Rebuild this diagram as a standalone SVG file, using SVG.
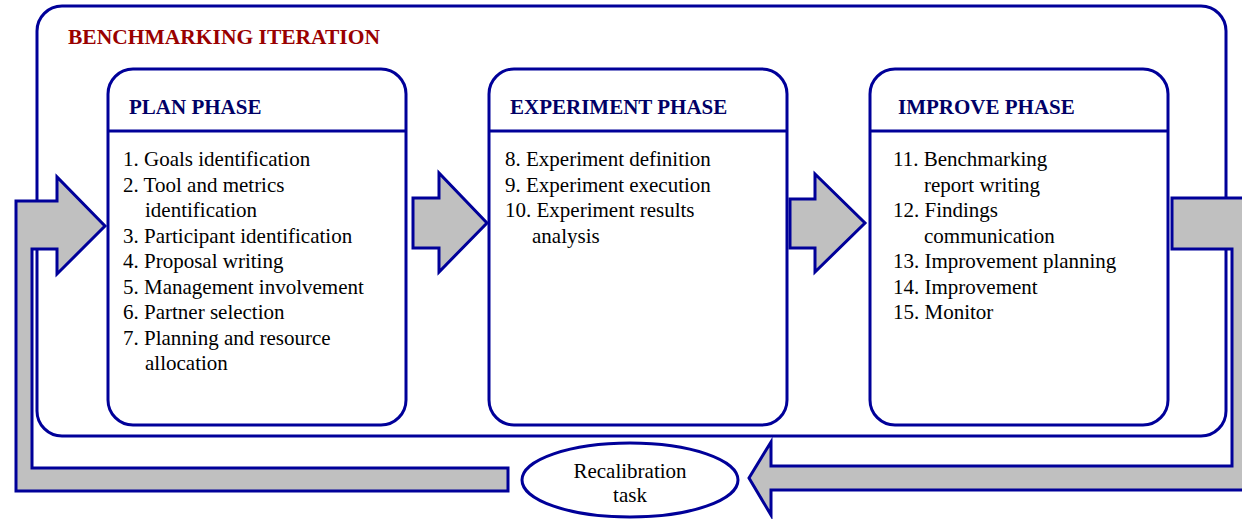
<svg xmlns="http://www.w3.org/2000/svg" width="1242" height="519" viewBox="0 0 1242 519">
<style>
.frame{fill:none;stroke:#000099;stroke-width:3}
.box{fill:#fff;stroke:#000099;stroke-width:3}
.sep{stroke:#000099;stroke-width:3}
.arrow{fill:#c0c0c0;stroke:#000099;stroke-width:3;stroke-linejoin:miter}
.title{font-family:"Liberation Serif","Times New Roman",serif;font-weight:bold;font-size:21.5px;fill:#990000}
.head{font-family:"Liberation Serif","Times New Roman",serif;font-weight:bold;font-size:21px;fill:#000066}
.body{font-family:"Liberation Serif","Times New Roman",serif;font-size:21px;fill:#000}
</style>
<rect width="1242" height="519" fill="#fff"/>
<g id="iteration">
<rect class="frame" x="37" y="6" width="1189" height="430" rx="25" ry="25"/>
<text class="title" x="68" y="44">BENCHMARKING ITERATION</text>
</g>
<g id="plan">
<rect class="box" x="108" y="69" width="298" height="356" rx="25" ry="25"/>
<line class="sep" x1="108" y1="131" x2="406" y2="131"/>
<text class="head" x="129" y="114">PLAN PHASE</text>
<text class="body">
<tspan x="123" y="166">1. Goals identification</tspan>
<tspan x="123" y="192">2. Tool and metrics</tspan>
<tspan x="145" y="217">identification</tspan>
<tspan x="123" y="243">3. Participant identification</tspan>
<tspan x="123" y="268">4. Proposal writing</tspan>
<tspan x="123" y="294">5. Management involvement</tspan>
<tspan x="123" y="319">6. Partner selection</tspan>
<tspan x="123" y="345">7. Planning and resource</tspan>
<tspan x="145" y="370">allocation</tspan>
</text>
</g>
<g id="experiment">
<rect class="box" x="489" y="69" width="298" height="356" rx="25" ry="25"/>
<line class="sep" x1="489" y1="131" x2="787" y2="131"/>
<text class="head" x="510" y="114">EXPERIMENT PHASE</text>
<text class="body">
<tspan x="505" y="166">8. Experiment definition</tspan>
<tspan x="505" y="192">9. Experiment execution</tspan>
<tspan x="505" y="217">10. Experiment results</tspan>
<tspan x="532" y="243">analysis</tspan>
</text>
</g>
<g id="improve">
<rect class="box" x="870" y="69" width="298" height="356" rx="25" ry="25"/>
<line class="sep" x1="870" y1="131" x2="1168" y2="131"/>
<text class="head" x="898" y="114">IMPROVE PHASE</text>
<text class="body">
<tspan x="893" y="166">11. Benchmarking</tspan>
<tspan x="924" y="192">report writing</tspan>
<tspan x="893" y="217">12. Findings</tspan>
<tspan x="924" y="243">communication</tspan>
<tspan x="893" y="268">13. Improvement planning</tspan>
<tspan x="893" y="294">14. Improvement</tspan>
<tspan x="893" y="319">15. Monitor</tspan>
</text>
</g>
<g id="connectors">
<polygon class="arrow" points="16,201 57,201 57,177 105,226 57,274 57,249 32,249 32,468 508,468 508,491 16,491"/>
<polygon class="arrow" points="413,198 439,198 439,173 487,223 439,272 439,248 413,248"/>
<polygon class="arrow" points="790,199 815,199 815,174 865,223 815,272 815,248 790,248"/>
<polygon class="arrow" points="1172,198 1250,198 1250,490 771,490 771,515 749,478 771,442 771,466 1232,466 1232,249 1172,249"/>
</g>
<g id="recalibration">
<ellipse cx="630" cy="480" rx="108" ry="37" fill="#fff" stroke="#000099" stroke-width="3"/>
<text class="body" x="630" y="478" text-anchor="middle">Recalibration</text>
<text class="body" x="630" y="502" text-anchor="middle">task</text>
</g>
</svg>
